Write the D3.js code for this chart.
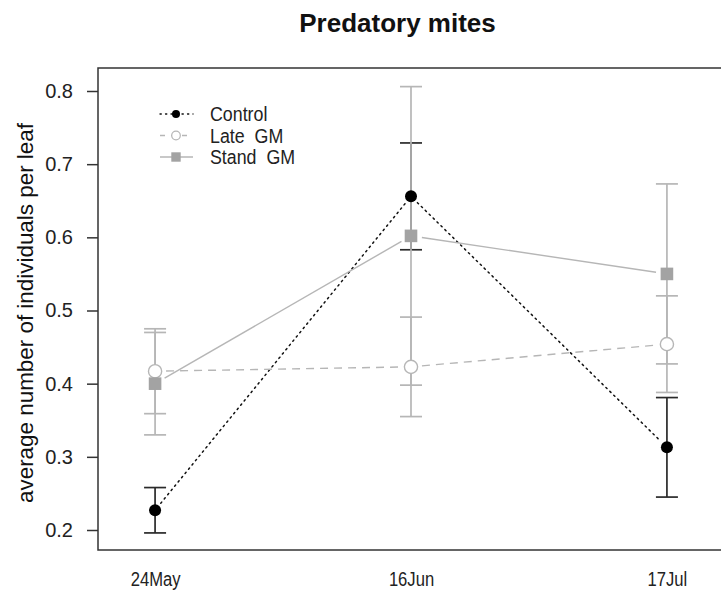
<!DOCTYPE html>
<html>
<head>
<meta charset="utf-8">
<script src="https://cdn.jsdelivr.net/npm/d3@7"></script>
<style>
  html, body { margin: 0; padding: 0; background: #fff; }
  svg { display: block; font-family: "Liberation Sans", Arial, sans-serif; }
</style>
</head>
<body>
<svg id="chart" width="721" height="592"></svg>
<script>
// Sampling dates and group means ± standard errors
const dates = ["24May", "16Jun", "17Jul"];
const controlMean = [0.227, 0.656, 0.313];
const controlSE   = [0.031, 0.073, 0.068];
const lateMean    = [0.417, 0.423, 0.454];
const lateSE      = [0.058, 0.068, 0.066];
const standMean   = [0.400, 0.602, 0.550];
const standSE     = [0.070, 0.204, 0.123];
const yTicks = [0.2, 0.3, 0.4, 0.5, 0.6, 0.7, 0.8];
const legendLabels = ["Control", "Late  GM", "Stand  GM"];

const svg = d3.select("#chart");
const FONT = "Liberation Sans, Arial, sans-serif";

const box = { left: 98, top: 68, right: 725, bottom: 550 };

// x: date index 0..2, padded on both sides
const x = d3.scaleLinear().domain([-0.223, 2.223]).range([98, 724]);
const y = d3.scaleLinear().domain([0.2, 0.8]).range([530, 91]);

const dark = "#111";
const grey = "#b6b6b6";
const greyFill = "#a3a3a3";

// Narrow the rendered glyph run of a text element to a share of its natural width
function condense(sel, factor) {
  sel.each(function () {
    const w = this.getComputedTextLength();
    d3.select(this).attr("textLength", w * factor).attr("lengthAdjust", "spacingAndGlyphs");
  });
}

// Title
svg.append("text")
  .attr("x", 397.5).attr("y", 32)
  .attr("text-anchor", "middle")
  .attr("font-size", 26).attr("font-weight", "bold")
  .attr("fill", "#111")
  .text("Predatory mites");

// Y axis
const yAxis = svg.append("g")
  .attr("transform", `translate(${box.left},0)`)
  .call(d3.axisLeft(y).tickValues(yTicks).tickSize(11).tickPadding(14).tickFormat(d3.format(".1f")));
yAxis.select(".domain").remove();
yAxis.selectAll("line").attr("stroke", "#333").attr("stroke-width", 1.5);
yAxis.selectAll("text").attr("font-size", 20).attr("fill", "#222").attr("font-family", FONT);

// X axis labels (no tick marks)
const xAxis = svg.append("g")
  .attr("transform", `translate(0,${box.bottom})`)
  .call(d3.axisBottom(x).tickValues([0, 1, 2]).tickSize(0).tickPadding(22)
    .tickFormat(i => dates[i]));
xAxis.select(".domain").remove();
xAxis.selectAll("text").attr("font-size", 20).attr("fill", "#222").attr("font-family", FONT)
  .attr("dy", "0.72em");
condense(xAxis.selectAll("text"), 0.83);

// Y axis title
svg.append("text")
  .attr("transform", "translate(33,313) rotate(-90)")
  .attr("text-anchor", "middle")
  .attr("font-size", 22).attr("fill", "#111")
  .attr("textLength", 380).attr("lengthAdjust", "spacingAndGlyphs")
  .text("average number of individuals per leaf");

// Plot frame
svg.append("rect")
  .attr("x", box.left).attr("y", box.top)
  .attr("width", box.right - box.left).attr("height", box.bottom - box.top)
  .attr("fill", "none").attr("stroke", "#333").attr("stroke-width", 1.5);

const series = [
  { mean: controlMean, se: controlSE, barColor: "#2a2a2a", lineColor: dark, dash: "1.5,4", lineWidth: 1.5, gap: 9 },
  { mean: lateMean, se: lateSE, barColor: grey, lineColor: grey, dash: "8,6", lineWidth: 1.4, gap: 11 },
  { mean: standMean, se: standSE, barColor: grey, lineColor: grey, dash: null, lineWidth: 1.4, gap: 11 }
];

// Error bars
const cap = 11;
series.forEach(s => {
  const g = svg.append("g").attr("stroke", s.barColor).attr("stroke-width", 1.7);
  s.mean.forEach((m, i) => {
    const cx = x(i), yHi = y(m + s.se[i]), yLo = y(m - s.se[i]);
    g.append("line").attr("x1", cx).attr("x2", cx).attr("y1", yHi).attr("y2", yLo);
    g.append("line").attr("x1", cx - cap).attr("x2", cx + cap).attr("y1", yHi).attr("y2", yHi);
    g.append("line").attr("x1", cx - cap).attr("x2", cx + cap).attr("y1", yLo).attr("y2", yLo);
  });
});

// Connecting lines, broken around each point
series.forEach(s => {
  for (let i = 0; i < s.mean.length - 1; i++) {
    const x1 = x(i), y1 = y(s.mean[i]), x2 = x(i + 1), y2 = y(s.mean[i + 1]);
    const len = Math.hypot(x2 - x1, y2 - y1);
    const ux = (x2 - x1) / len, uy = (y2 - y1) / len;
    svg.append("line")
      .attr("x1", x1 + ux * s.gap).attr("y1", y1 + uy * s.gap)
      .attr("x2", x2 - ux * s.gap).attr("y2", y2 - uy * s.gap)
      .attr("stroke", s.lineColor).attr("stroke-width", s.lineWidth)
      .attr("stroke-dasharray", s.dash)
      .attr("stroke-linecap", s.dash === "1.5,4" ? "round" : "butt");
  }
});

// Point markers
function drawControl(g, cx, cy) {
  g.append("circle").attr("cx", cx).attr("cy", cy).attr("r", 6).attr("fill", "#000");
}
function drawLate(g, cx, cy) {
  g.append("circle").attr("cx", cx).attr("cy", cy).attr("r", 6.6)
    .attr("fill", "#fff").attr("stroke", grey).attr("stroke-width", 1.4);
}
function drawStand(g, cx, cy) {
  g.append("rect").attr("x", cx - 6.3).attr("y", cy - 6.3).attr("width", 12.6).attr("height", 12.6)
    .attr("fill", greyFill);
}
const markers = [drawControl, drawLate, drawStand];
const pts = svg.append("g");
series.forEach((s, k) => s.mean.forEach((m, i) => markers[k](pts, x(i), y(m))));

// Legend
const leg = svg.append("g");
const legY = [114, 135.5, 157];
const legendSmall = [
  g => g.append("circle").attr("r", 4).attr("fill", "#000"),
  g => g.append("circle").attr("r", 4.3).attr("fill", "#fff").attr("stroke", grey).attr("stroke-width", 1.2),
  g => g.append("rect").attr("x", -4.7).attr("y", -4.7).attr("width", 9.4).attr("height", 9.4).attr("fill", greyFill)
];
series.forEach((s, k) => {
  const row = leg.append("g").attr("transform", `translate(0,${legY[k]})`);
  row.append("line").attr("x1", 160).attr("x2", 193).attr("y1", 0).attr("y2", 0)
    .attr("stroke", s.lineColor).attr("stroke-width", 1.3)
    .attr("stroke-dasharray", k === 0 ? "1.3,4.2" : (k === 1 ? "5,6" : null))
    .attr("stroke-linecap", k === 0 ? "round" : "butt");
  legendSmall[k](row.append("g").attr("transform", "translate(176,0)"));
  const t = row.append("text").attr("x", 210).attr("y", 7)
    .attr("font-size", 20).attr("fill", "#222")
    .attr("xml:space", "preserve").style("white-space", "pre")
    .text(legendLabels[k]);
  condense(t, 0.89);
});
</script>
</body>
</html>
